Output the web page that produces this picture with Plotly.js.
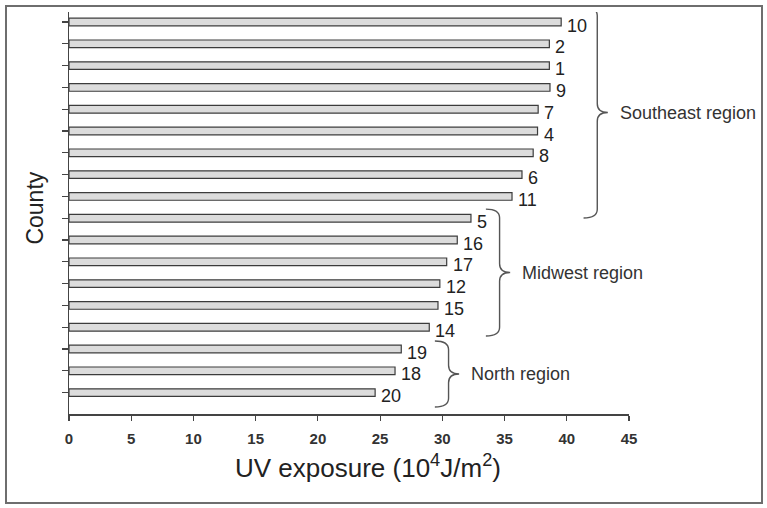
<!DOCTYPE html>
<html>
<head>
<meta charset="utf-8">
<script src="https://cdn.plot.ly/plotly-3.0.1.min.js"></script>
<style>
  html, body { margin: 0; padding: 0; background: #fff; }
  #wrap { position: relative; width: 767px; height: 508px; }
  #chart { position: absolute; left: 0; top: 0; width: 767px; height: 508px; }
  #frame { position: absolute; left: 5px; top: 5px; width: 754px; height: 495px;
           border: 2px solid #6e6e6e; pointer-events: none; }
</style>
</head>
<body>
<div id="wrap">
  <div id="chart"></div>
  <div id="frame"></div>
</div>
<script>
// ---- data ----
const counties = ["10", "2", "1", "9", "7", "4", "8", "6", "11",
                  "5", "16", "17", "12", "15", "14",
                  "19", "18", "20"];
const uvExposure = [39.55, 38.6, 38.6, 38.65, 37.7, 37.65, 37.3, 36.4, 35.6,
                    32.3, 31.2, 30.35, 29.8, 29.65, 28.95,
                    26.7, 26.2, 24.6];
const regionNames = ["Southeast region", "Midwest region", "North region"];
const regionFirst = [0, 9, 15];
const regionLast  = [8, 14, 17];
const xTicks = [0, 5, 10, 15, 20, 25, 30, 35, 40, 45];

// ---- build ----
const pos = counties.map((c, i) => i);

const trace = {
  type: 'bar',
  orientation: 'h',
  x: uvExposure,
  y: pos,
  width: 0.35,
  marker: { color: '#dcdcdc', line: { color: '#3c3c3c', width: 1.2 } },
  hoverinfo: 'x+text',
  text: counties,
  textposition: 'none'
};

const annotations = counties.map((c, i) => ({
  x: uvExposure[i], y: i, xref: 'x', yref: 'y',
  text: c, showarrow: false, xanchor: 'left', yanchor: 'middle',
  xshift: 4, yshift: -3.5,
  font: { family: 'Liberation Sans, Arial, sans-serif', size: 18, color: '#222' }
}));

// braces, placed from each region's own bars
const braceGap = [1.8, 1.2, 2.7];
const padTop = [0.69, 0.42, 0.37];
const padBot = [0.99, 0.40, 0.66];
const shapes = [];
regionNames.forEach((name, r) => {
  const vals = uvExposure.slice(regionFirst[r], regionLast[r] + 1);
  const mx = Math.max(...vals);
  const x1 = mx + braceGap[r] + 1.1;   // vertical stroke
  const x0 = x1 - 1.1;                 // hook ends
  const xt = x1 + 0.85;                // tip
  const y0 = regionFirst[r] - padTop[r];
  const y1 = regionLast[r] + padBot[r];
  const ym = (y0 + y1) / 2;
  const rr = 0.4;
  const path = `M ${x0},${y0} Q ${x1},${y0} ${x1},${y0 + rr} L ${x1},${ym - rr} ` +
               `Q ${x1},${ym} ${xt},${ym} Q ${x1},${ym} ${x1},${ym + rr} ` +
               `L ${x1},${y1 - rr} Q ${x1},${y1} ${x0},${y1}`;
  shapes.push({ type: 'path', xref: 'x', yref: 'y', path: path,
                line: { color: '#555', width: 1.4 } });
  annotations.push({
    x: xt, y: ym, xref: 'x', yref: 'y', text: name, showarrow: false,
    xanchor: 'left', yanchor: 'middle', xshift: 10,
    font: { family: 'Liberation Sans, Arial, sans-serif', size: 18, color: '#333' }
  });
});

// axis titles
annotations.push({
  xref: 'paper', yref: 'paper', x: 0.534, y: -0.13, xanchor: 'center', yanchor: 'middle',
  text: 'UV exposure (10<sup>4</sup>J/m<sup>2</sup>)', showarrow: false,
  font: { family: 'Liberation Sans, Arial, sans-serif', size: 26, color: '#222' }
});
annotations.push({
  xref: 'paper', yref: 'paper', x: -0.06, y: 0.512, xanchor: 'center', yanchor: 'middle',
  text: 'County', textangle: -90, showarrow: false,
  font: { family: 'Liberation Sans, Arial, sans-serif', size: 23, color: '#222' }
});

const layout = {
  width: 767, height: 508,
  margin: { l: 69, r: 138, t: 12, b: 94 },
  paper_bgcolor: '#ffffff', plot_bgcolor: '#ffffff',
  showlegend: false,
  xaxis: {
    range: [0, 45], tickvals: xTicks, ticktext: xTicks.map(String),
    ticks: 'outside', ticklen: 5, tickwidth: 1.2, tickcolor: '#444',
    ticklabelstandoff: 5,
    showline: true, linecolor: '#444', linewidth: 1.5,
    showgrid: false, zeroline: false,
    tickfont: { family: 'Liberation Sans, Arial, sans-serif', size: 15, color: '#333', weight: 'bold' }
  },
  yaxis: {
    range: [17.98, -0.46], tickvals: pos, showticklabels: false,
    ticks: 'outside', ticklen: 6, tickwidth: 1.2, tickcolor: '#444',
    showline: true, linecolor: '#444', linewidth: 1.5,
    showgrid: false, zeroline: false
  },
  annotations: annotations,
  shapes: shapes
};

Plotly.newPlot('chart', [trace], layout, { staticPlot: true, displayModeBar: false });
</script>
</body>
</html>
